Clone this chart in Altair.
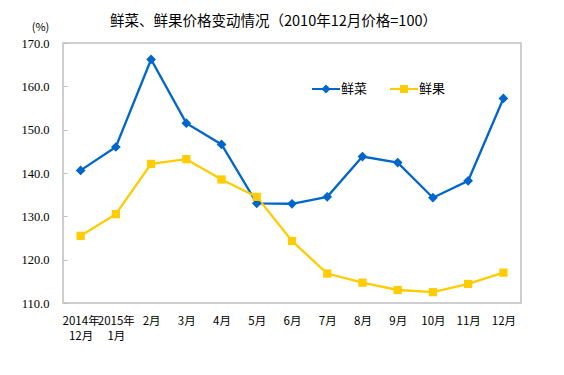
import altair as alt
import pandas as pd

months = ["2014年\n12月", "2015年\n1月", "2月", "3月", "4月", "5月", "6月",
          "7月", "8月", "9月", "10月", "11月", "12月"]
vegetables = [140.6, 146.0, 166.2, 151.5, 146.6, 133.0, 132.9, 134.5, 143.8, 142.4, 134.3, 138.2, 157.2]
fruits = [125.5, 130.5, 142.1, 143.2, 138.5, 134.5, 124.3, 116.8, 114.7, 113.0, 112.5, 114.4, 117.0]
series_names = ["鲜菜", "鲜果"]
y_ticks = [110, 120, 130, 140, 150, 160, 170]

BLUE = "#0066CC"
YELLOW = "#FFCC00"
AXIS_GRAY = "#BFBFBF"
CJK = "Noto Sans CJK SC"

rows = []
for m, v in zip(months, vegetables):
    rows.append({"month": m, "value": v, "series": series_names[0]})
for m, v in zip(months, fruits):
    rows.append({"month": m, "value": v, "series": series_names[1]})
df = pd.DataFrame(rows)

x_enc = alt.X("month:N", sort=months,
              scale=alt.Scale(type="point", padding=0.5),
              axis=alt.Axis(title=None, labelAngle=0, ticks=False, domain=False,
                            labelExpr="split(datum.label, '\\n')",
                            labelFont=CJK, labelFontSize=11.5, labelColor="#000000",
                            labelLineHeight=15, labelPadding=12, labelAlign="center"))
y_enc = alt.Y("value:Q",
              scale=alt.Scale(domain=[110, 170], nice=False, zero=False),
              axis=alt.Axis(values=y_ticks, format=".1f", ticks=False, domain=False,
                            grid=True, gridColor=AXIS_GRAY, gridDash=[4, 2000], gridWidth=1,
                            labelFont="Liberation Serif, Times New Roman, serif",
                            labelFontSize=12.5, labelColor="#000000",
                            labelPadding=14,
                            title="(%)", titleAngle=0, titleX=-23, titleY=-16,
                            titleAlign="center", titleBaseline="middle",
                            titleFont=CJK, titleFontSize=11, titleFontWeight="normal",
                            titleColor="#000000"))
color_scale = alt.Scale(domain=series_names, range=[BLUE, YELLOW])

base = alt.Chart(df)

diamond_line = ("M-1,-0.075L-0.25,-0.075L0,-0.33L0.25,-0.075L1,-0.075L1,0.075"
                "L0.25,0.075L0,0.33L-0.25,0.075L-1,0.075Z")
square_line = ("M-1,-0.075L-0.29,-0.075L-0.29,-0.29L0.29,-0.29L0.29,-0.075L1,-0.075"
               "L1,0.075L0.29,0.075L0.29,0.29L-0.29,0.29L-0.29,0.075L-1,0.075Z")

legend_cfg = alt.Legend(title=None, orient="none", legendX=249, legendY=32,
                        direction="horizontal", symbolSize=784, symbolOpacity=1,
                        symbolStrokeWidth=0, labelFont=CJK, labelFontSize=13,
                        labelColor="#000000", labelOffset=1, columnPadding=22)

# tiny legend-carrying points, hidden beneath the real markers
legend_layer = base.mark_point(filled=True, size=20).encode(
    x=x_enc, y=y_enc,
    color=alt.Color("series:N", scale=color_scale, legend=legend_cfg, sort=series_names),
    shape=alt.Shape("series:N", scale=alt.Scale(domain=series_names, range=[diamond_line, square_line]),
                    legend=legend_cfg, sort=series_names),
)

lines = base.mark_line(strokeWidth=2.3).encode(
    x=x_enc, y=y_enc,
    color=alt.Color("series:N", scale=color_scale, legend=None),
    detail="series:N",
)

veg_pts = base.transform_filter(alt.datum.series == series_names[0]).mark_point(
    shape="diamond", filled=True, size=95, opacity=1).encode(
    x=x_enc, y=y_enc,
    color=alt.Color("series:N", scale=color_scale, legend=None),
)
fruit_pts = base.transform_filter(alt.datum.series == series_names[1]).mark_point(
    shape="square", filled=True, size=68, opacity=1).encode(
    x=x_enc, y=y_enc,
    color=alt.Color("series:N", scale=color_scale, legend=None),
)

chart = alt.layer(legend_layer, lines, veg_pts, fruit_pts).properties(
    width=458, height=260,
    title=alt.TitleParams("鲜菜、鲜果价格变动情况（2010年12月价格=100）",
                          font=CJK, fontSize=14.5, fontWeight="normal", color="#000000",
                          anchor="start", frame="group", dx=47, offset=-8.5),
    autosize=alt.AutoSizeParams(type="none"),
    padding={"left": 55, "top": 35, "right": 33, "bottom": 60},
    background="#FFFFFF",
).configure_view(stroke=AXIS_GRAY, strokeWidth=1.5)

chart.save("out.html", embed_options={"renderer": "svg", "actions": False})
